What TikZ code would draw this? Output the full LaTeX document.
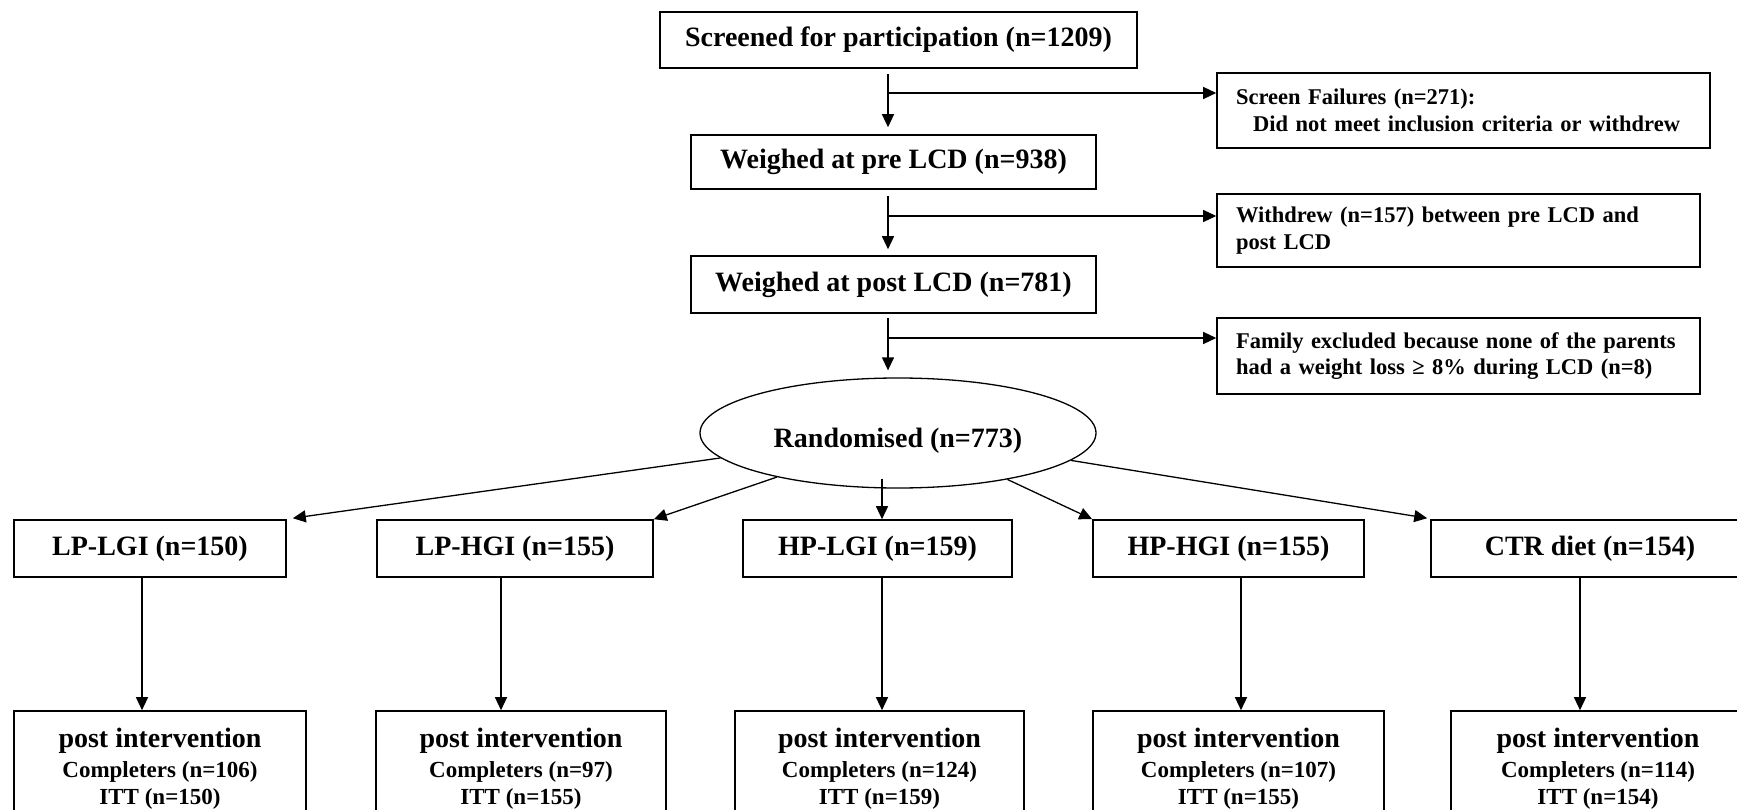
\documentclass[tikz,border=0pt]{standalone}
\usepackage{fontspec}
\setmainfont{Liberation Serif}
\usetikzlibrary{arrows.meta,shapes.geometric,calc}
\begin{document}
\begin{tikzpicture}[x=1pt,y=-1pt,
  box/.style={draw,line width=1.6pt,inner sep=0pt,font=\fontsize{28}{32}\selectfont\bfseries},
  side/.style={draw,line width=1.6pt,inner xsep=19pt,inner ysep=0pt,align=left,font=\fontsize{22.5}{26.5}\selectfont\bfseries},
  postbox/.style={draw,line width=1.6pt,inner sep=0pt,align=center,minimum height=109pt,font=\fontsize{23}{27.5}\selectfont\bfseries},
  arr/.style={line width=1.3pt,-{Triangle[length=13pt,width=12pt]}}]
\useasboundingbox (0,0) rectangle (1737,810);
\clip (0,0) rectangle (1737,810);
\fill[white] (0,0) rectangle (1737,810);

% main column
\node[box,minimum width=477pt,minimum height=56pt] (screen) at (898.5,40) {Screened for participation (n=1209)};
\node[box,minimum width=405pt,minimum height=54pt] (pre) at (893.5,162) {Weighed at pre LCD (n=938)};
\node[box,minimum width=405pt,minimum height=57pt] (post) at (893.5,284.5) {Weighed at post LCD (n=781)};
\node[ellipse,draw,line width=1.3pt,minimum width=396pt,minimum height=110pt,inner sep=0pt,
      font=\fontsize{28}{32}\selectfont\bfseries] (rand) at (898,433)
      {\raisebox{-8pt}[19pt][6pt]{Randomised (n=773)}};

% side boxes
\node[side,text width=455pt,minimum height=75pt] (fail) at (1463.5,110.5)
  {Screen Failures (n=271):\\\hspace*{17pt}Did not meet inclusion criteria or withdrew};
\node[side,text width=445pt,minimum height=73pt] (wd) at (1458.5,230.5)
  {Withdrew (n=157) between pre LCD and\\post LCD};
\node[side,text width=445pt,minimum height=76pt] (fam) at (1458.5,356)
  {Family excluded because none of the parents\\had a weight loss ≥ 8\% during LCD (n=8)};

% groups
\node[box,minimum width=272pt,minimum height=57pt] (g1) at (150,548.5) {LP-LGI (n=150)};
\node[box,minimum width=276pt,minimum height=57pt] (g2) at (515,548.5) {LP-HGI (n=155)};
\node[box,minimum width=269pt,minimum height=57pt] (g3) at (877.5,548.5) {HP-LGI (n=159)};
\node[box,minimum width=271pt,minimum height=57pt] (g4) at (1228.5,548.5) {HP-HGI (n=155)};
\node[box,minimum width=318pt,minimum height=57pt] (g5) at (1590,548.5) {CTR diet (n=154)};

% post intervention
\node[postbox,minimum width=292pt,minimum height=115pt] (p1) at (160,768.5)
  {{\fontsize{28}{30}\selectfont post intervention}\\[2.5pt]Completers (n=106)\\ITT (n=150)};
\node[postbox,minimum width=290pt,minimum height=115pt] (p2) at (521,768.5)
  {{\fontsize{28}{30}\selectfont post intervention}\\[2.5pt]Completers (n=97)\\ITT (n=155)};
\node[postbox,minimum width=289pt,minimum height=115pt] (p3) at (879.5,768.5)
  {{\fontsize{28}{30}\selectfont post intervention}\\[2.5pt]Completers (n=124)\\ITT (n=159)};
\node[postbox,minimum width=291pt,minimum height=115pt] (p4) at (1238.5,768.5)
  {{\fontsize{28}{30}\selectfont post intervention}\\[2.5pt]Completers (n=107)\\ITT (n=155)};
\node[postbox,minimum width=294pt,minimum height=115pt] (p5) at (1598,768.5)
  {{\fontsize{28}{30}\selectfont post intervention}\\[2.5pt]Completers (n=114)\\ITT (n=154)};

% main vertical flow
\coordinate (vx) at (888,0);
\draw[arr,shorten <=5pt,shorten >=7pt] (screen.south -| vx) -- (pre.north -| vx);
\draw[arr,shorten <=6pt,shorten >=6pt] (pre.south -| vx) -- (post.north -| vx);
\draw[arr,shorten <=4pt,shorten >=7pt] (post.south -| vx) -- (rand.north -| vx);

% side branches
\coordinate (b1) at (888,93);
\coordinate (b2) at (888,216);
\coordinate (b3) at (888,338);
\draw[arr] (b1) -- (b1 -| fail.west);
\draw[arr] (b2) -- (b2 -| wd.west);
\draw[arr] (b3) -- (b3 -| fam.west);

% randomisation arrows
\coordinate (x3) at (882,0);
\draw[arr] (rand.188.6) -- ([xshift=6pt,yshift=1pt]g1.north east);
\draw[arr] (rand.200.5) -- (g2.north east);
\draw[arr] ([yshift=10pt]rand.south -| x3) -- (g3.north -| x3);
\draw[arr] (rand.337.8) -- (g4.north west);
\draw[arr] (rand.351.5) -- ([xshift=-3pt,yshift=1pt]g5.north west);

% to post intervention
\coordinate (c1) at (142,0);
\coordinate (c2) at (501,0);
\coordinate (c3) at (882,0);
\coordinate (c4) at (1241,0);
\coordinate (c5) at (1580,0);
\draw[arr] (g1.south -| c1) -- (p1.north -| c1);
\draw[arr] (g2.south -| c2) -- (p2.north -| c2);
\draw[arr] (g3.south -| c3) -- (p3.north -| c3);
\draw[arr] (g4.south -| c4) -- (p4.north -| c4);
\draw[arr] (g5.south -| c5) -- (p5.north -| c5);
\end{tikzpicture}
\end{document}
